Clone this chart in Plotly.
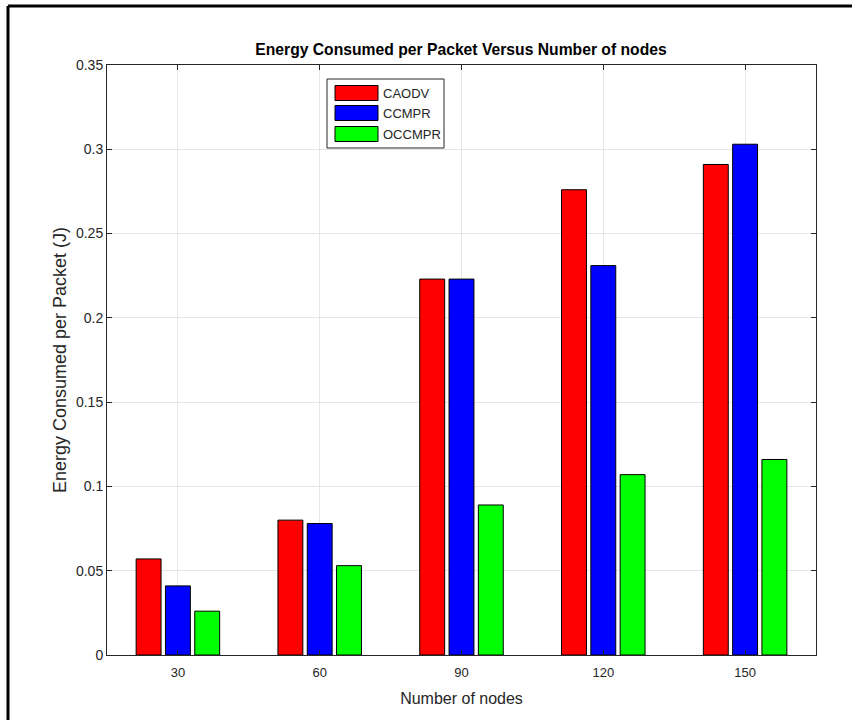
import plotly.graph_objects as go

categories = ["30", "60", "90", "120", "150"]
series_names = ["CAODV", "CCMPR", "OCCMPR"]
caodv = [0.057, 0.080, 0.223, 0.276, 0.291]
ccmpr = [0.041, 0.078, 0.223, 0.231, 0.303]
occmpr = [0.026, 0.053, 0.089, 0.107, 0.116]
colors = ["#ff0000", "#0000ff", "#00ff00"]
y_ticks = [0, 0.05, 0.1, 0.15, 0.2, 0.25, 0.3, 0.35]
y_tick_text = ["0", "0.05", "0.1", "0.15", "0.2", "0.25", "0.3", "0.35"]

FONT = "Liberation Sans, Arial"
TXT = "#262626"

fig = go.Figure()
for name, vals, col in zip(series_names, [caodv, ccmpr, occmpr], colors):
    fig.add_trace(go.Bar(x=categories, y=vals, name=name, showlegend=False,
                         marker=dict(color=col, line=dict(color="black", width=1))))

W, H = 852, 720
L, R, T, B = 107, 816, 65, 655
pw, ph = R - L, B - T

def px(x):
    return (x - L) / pw

def py(y):
    return (B - y) / ph

axis_common = dict(showline=True, mirror="ticks", linecolor=TXT, linewidth=1,
                   ticks="inside", ticklen=5, tickcolor=TXT,
                   showgrid=True, gridcolor="#e6e6e6", gridwidth=1,
                   zeroline=False)

shapes = [
    dict(type="line", xref="paper", yref="paper", x0=px(8), x1=px(8), y0=py(720), y1=py(6),
         line=dict(color="black", width=3)),
    dict(type="line", xref="paper", yref="paper", x0=px(8), x1=px(852), y0=py(6), y1=py(6),
         line=dict(color="black", width=3)),
    # legend box
    dict(type="rect", xref="paper", yref="paper", x0=px(327), x1=px(444), y0=py(148), y1=py(79),
         fillcolor="white", line=dict(color=TXT, width=1), layer="above"),
]
annotations = []
row_centers = [93, 113, 134]
for name, col, yc in zip(series_names, colors, row_centers):
    shapes.append(dict(type="rect", xref="paper", yref="paper",
                       x0=px(335), x1=px(378), y0=py(yc + 7.5), y1=py(yc - 7.5),
                       fillcolor=col, line=dict(color="black", width=1), layer="above"))
    annotations.append(dict(text=name, xref="paper", yref="paper", x=px(381), y=py(yc),
                            xanchor="left", yanchor="middle", showarrow=False,
                            font=dict(family=FONT, size=13, color=TXT)))

fig.update_layout(
    width=W, height=H,
    margin=dict(l=L, r=W - R, t=T, b=H - B),
    paper_bgcolor="white", plot_bgcolor="white",
    barmode="group", bargap=0.38, bargroupgap=0.15,
    title=dict(text="<b>Energy Consumed per Packet Versus Number of nodes</b>",
               x=px(461), xref="paper", xanchor="center",
               y=1 - 50 / H, yanchor="middle",
               font=dict(family=FONT, size=15.7, color="black")),
    xaxis=dict(title=dict(text="Number of nodes", standoff=14,
                          font=dict(family=FONT, size=16, color=TXT)),
               tickfont=dict(family=FONT, size=13, color=TXT), ticklabelstandoff=5,
               range=[-0.5, 4.5], **axis_common),
    yaxis=dict(title=dict(text="Energy Consumed per Packet (J)", standoff=4,
                          font=dict(family=FONT, size=18, color=TXT)),
               tickfont=dict(family=FONT, size=14, color=TXT),
               range=[0, 0.35], tickvals=y_ticks, ticktext=y_tick_text, **axis_common),
    shapes=shapes,
    annotations=annotations,
)

fig.write_html("out.html")
